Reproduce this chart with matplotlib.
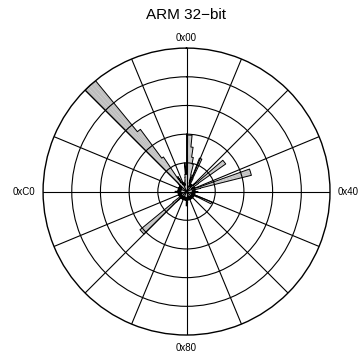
import matplotlib
matplotlib.use('Agg')
import matplotlib.pyplot as plt
import numpy as np

plt.rcParams['font.family'] = ['Liberation Sans', 'DejaVu Sans']

TITLE = 'ARM 32\u2212bit'
ANGLE_LABELS = ['0x00', '0x40', '0x80', '0xC0']

# relative frequency of each byte value 0x00..0xFF (ring units, outer ring = 5)
byte_freq = [
    1.97, 1.97, 1.97, 1.97, 1.56, 1.56, 1.21, 1.21, 0.98, 0.98, 0.6, 0.4, 0.3, 0.5, 0.6, 1.25,  # 0x00
    1.25, 1.25, 0.5, 0.3, 0.25, 0.3, 0.2, 0.25, 0.3, 0.2, 0.25, 0.2, 0.3, 0.25, 0.2, 0.3,      # 0x10
    0.4, 0.3, 0.45, 1.67, 1.67, 1.67, 1.67, 0.5, 0.3, 0.25, 0.2, 0.3, 0.25, 0.2, 0.3, 0.25,    # 0x20
    0.35, 0.4, 2.33, 2.33, 2.33, 2.33, 0.5, 0.25, 0.3, 0.2, 0.25, 0.2, 0.3, 0.2, 0.25, 0.2,    # 0x30
    0.4, 0.3, 0.3, 0.25, 0.2, 0.3, 0.2, 0.25, 0.3, 0.2, 0.25, 0.2, 0.3, 0.2, 0.25, 0.3,        # 0x40
    0.95, 0.95, 0.95, 0.4, 0.3, 0.25, 0.2, 0.3, 0.25, 0.2, 0.3, 0.25, 0.2, 0.3, 0.25, 0.2,     # 0x50
    0.3, 0.25, 0.2, 0.3, 0.25, 0.2, 0.3, 0.25, 0.2, 0.3, 0.25, 0.2, 0.3, 0.25, 0.2, 0.3,       # 0x60
    0.3, 0.25, 0.3, 0.2, 0.25, 0.3, 0.2, 0.25, 0.3, 0.2, 0.25, 0.3, 0.4, 0.35, 0.3, 0.45,      # 0x70
    0.5, 0.3, 0.25, 0.2, 0.3, 0.25, 0.2, 0.3, 0.25, 0.2, 0.3, 0.25, 0.2, 0.3, 0.25, 0.2,       # 0x80
    0.3, 0.25, 0.2, 0.3, 0.25, 0.2, 0.3, 0.25, 0.2, 0.3, 0.25, 0.2, 0.3, 0.25, 0.4, 0.5,       # 0x90
    2.1, 2.1, 2.1, 2.1, 0.6, 0.3, 0.25, 0.2, 0.3, 0.25, 0.2, 0.3, 0.25, 0.2, 0.3, 0.25,        # 0xA0
    0.3, 0.25, 0.2, 0.3, 0.25, 0.2, 0.3, 0.25, 0.2, 0.3, 0.25, 0.2, 0.3, 0.25, 0.2, 0.3,       # 0xB0
    0.4, 0.3, 0.25, 0.2, 0.3, 0.25, 0.2, 0.3, 0.25, 0.2, 0.3, 0.25, 0.2, 0.3, 0.25, 0.2,       # 0xC0
    0.3, 0.25, 0.2, 0.3, 0.25, 0.2, 0.3, 0.25, 0.2, 0.3, 0.25, 0.2, 0.3, 0.25, 0.35, 0.4,      # 0xD0
    5.0, 5.0, 5.0, 5.0, 2.7, 2.7, 1.45, 1.45, 0.5, 0.35, 0.6, 0.5, 0.3, 0.25, 0.3, 0.3,        # 0xE0
    0.35, 0.3, 0.25, 0.3, 0.25, 0.2, 0.3, 0.25, 0.3, 0.35, 0.4, 0.5, 0.6, 1.0, 0.75, 0.6,      # 0xF0
]

n = len(byte_freq)
width = 2 * np.pi / n
theta = np.arange(n) * width

fig = plt.figure(figsize=(3.62, 3.60), dpi=100)
ax = fig.add_axes([0.1188, 0.0694, 0.793, 0.797], projection='polar')
ax.set_theta_zero_location('N')
ax.set_theta_direction(-1)

# filled wedges, then one stepped outline around the whole histogram
ax.bar(theta, byte_freq, width=width, align='edge', color='#bebebe', linewidth=0)
edges = np.append(theta, 2 * np.pi)
ax.plot(edges, byte_freq + byte_freq[:1], drawstyle='steps-post', color='black', lw=0.7)

ax.set_ylim(0, 5)
ax.set_rgrids([1, 2, 3, 4], labels=[])
ax.set_thetagrids(np.arange(16) * 22.5, labels=[''] * 16)
ax.grid(True, color='black', linewidth=0.8)
ax.spines['polar'].set_linewidth(1.0)

# angle labels just outside the rim
label_pos = [(0, 5.35, 'center', 'center'), (np.pi / 2, 5.28, 'left', 'center'),
             (np.pi, 5.45, 'center', 'center'), (3 * np.pi / 2, 5.28, 'right', 'center')]
for lab, (th, r, ha, va) in zip(ANGLE_LABELS, label_pos):
    ax.text(th, r, lab, ha=ha, va=va, fontsize=7, clip_on=False)

fig.text(0.515, 0.958, TITLE, ha='center', va='center', fontsize=11)

fig.savefig('out.png', dpi=100)
